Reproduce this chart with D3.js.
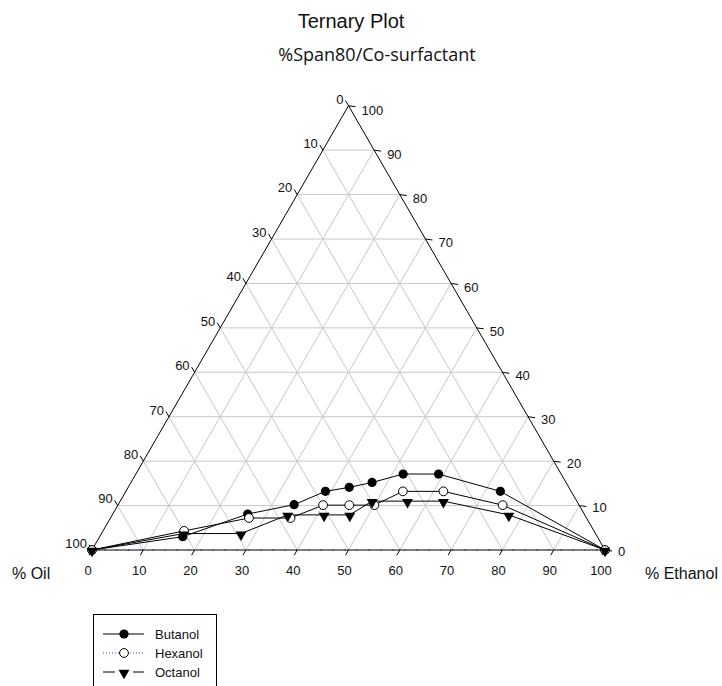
<!DOCTYPE html>
<html>
<head>
<meta charset="utf-8">
<script src="https://cdn.jsdelivr.net/npm/d3@7"></script>
<style>
  html, body { margin: 0; padding: 0; background: #fff; }
  svg { display: block; }
</style>
</head>
<body>
<svg id="chart" width="722" height="686"></svg>
<script>
// ---- data (ternary compositions, %) ----
const ticks = [0, 10, 20, 30, 40, 50, 60, 70, 80, 90, 100];
const seriesNames = ["Butanol", "Hexanol", "Octanol"];

// % Ethanol and % Span80/Co-surfactant for each point (oil = 100 - ethanol - span)
const butanolEthanol = [0, 16.2, 26.3, 34.3, 38.9, 43.1, 47.0, 52.1, 59.0, 73.0, 100];
const butanolSpan    = [0, 3.0, 8.1, 10.2, 13.2, 14.1, 15.2, 17.1, 17.1, 13.2, 0];

const hexanolEthanol = [0, 15.8, 27.0, 35.1, 40.0, 45.1, 50.0, 54.0, 61.9, 75.0, 100];
const hexanolSpan    = [0, 4.3, 7.2, 7.2, 10.1, 10.1, 10.1, 13.2, 13.2, 10.1, 0];

const octanolEthanol = [0, 16.0, 27.2, 34.2, 41.3, 46.3, 49.1, 56.0, 63.0, 77.3, 100];
const octanolSpan    = [0, 3.7, 3.7, 7.9, 7.9, 7.9, 11.0, 11.0, 11.0, 7.9, 0];

// ---- layout ----
const svg = d3.select("#chart");
const x0 = 92, x1 = 605, yBase = 550;
const side = x1 - x0;
const H = side * Math.sqrt(3) / 2;

const xs = d3.scaleLinear().domain([0, 100]).range([x0, x1]);        // cartesian x in ternary units
const ys = d3.scaleLinear().domain([0, 100]).range([yBase, yBase - H]); // span (height)

// ternary -> pixel
function P(eth, span) { return [xs(eth + span / 2), ys(span)]; }

const font = "'Liberation Sans', Arial, sans-serif";

// ---- title ----
svg.append("text").attr("x", 351).attr("y", 28)
  .attr("text-anchor", "middle").attr("font-family", font).attr("font-size", 20)
  .attr("fill", "#111").text("Ternary Plot");
svg.append("text").attr("x", 377).attr("y", 61)
  .attr("text-anchor", "middle").attr("font-family", "'Open Sans', 'Noto Sans', sans-serif")
  .attr("font-size", 18).attr("fill", "#111").text("%Span80/Co-surfactant");

// ---- grid ----
const grid = svg.append("g").attr("stroke", "#c8c8c8").attr("stroke-width", 1).attr("fill", "none");
ticks.slice(1, -1).forEach(v => {
  // constant span (horizontal)
  let a = P(0, v), b = P(100 - v, v);
  grid.append("line").attr("x1", a[0]).attr("y1", a[1]).attr("x2", b[0]).attr("y2", b[1]);
  // constant ethanol (parallel to left edge)
  a = P(v, 0); b = P(v, 100 - v);
  grid.append("line").attr("x1", a[0]).attr("y1", a[1]).attr("x2", b[0]).attr("y2", b[1]);
  // constant oil (parallel to right edge)
  a = P(100 - v, 0); b = P(0, 100 - v);
  grid.append("line").attr("x1", a[0]).attr("y1", a[1]).attr("x2", b[0]).attr("y2", b[1]);
});

// ---- triangle frame ----
const A = P(0, 0), B = P(100, 0), C = P(0, 100);
svg.append("path")
  .attr("d", `M${A[0]},${A[1]}L${B[0]},${B[1]}L${C[0]},${C[1]}Z`)
  .attr("fill", "none").attr("stroke", "#000").attr("stroke-width", 1);
// blue dotted overlay along the base
svg.append("line").attr("x1", A[0]).attr("y1", A[1]).attr("x2", B[0]).attr("y2", B[1])
  .attr("stroke", "#3344cc").attr("stroke-width", 1.3).attr("stroke-dasharray", "1.5,10.5");

// ---- axes: ticks and labels ----
const tk = 6;
const axes = svg.append("g").attr("stroke", "#000").attr("stroke-width", 1);
const lab = svg.append("g").attr("font-family", font).attr("font-size", 13).attr("fill", "#111");

ticks.forEach(v => {
  // bottom: % Ethanol
  let p = P(v, 0);
  let e = [p[0] - 0.5 * tk, p[1] + 0.866 * tk];
  axes.append("line").attr("x1", p[0]).attr("y1", p[1]).attr("x2", e[0]).attr("y2", e[1]);
  lab.append("text").attr("x", p[0] - 4).attr("y", p[1] + 25).attr("text-anchor", "middle").text(v);

  // left: % Oil (0 at top, 100 at bottom-left)
  p = P(0, 100 - v);
  e = [p[0] - 0.5 * tk, p[1] - 0.866 * tk];
  axes.append("line").attr("x1", p[0]).attr("y1", p[1]).attr("x2", e[0]).attr("y2", e[1]);
  lab.append("text").attr("x", e[0] - 2).attr("y", e[1] + 3).attr("text-anchor", "end").text(v);

  // right: % Span80/Co-surfactant (100 at top, 0 at bottom-right)
  p = P(100 - v, v);
  e = [p[0] + 7, p[1] + 1];
  axes.append("line").attr("x1", p[0]).attr("y1", p[1]).attr("x2", e[0]).attr("y2", e[1]);
  lab.append("text").attr("x", p[0] + 13).attr("y", p[1] + 1 + 4 * v / 100).attr("dy", "0.36em").text(v);
});

// axis names
svg.append("text").attr("x", 12).attr("y", 579).attr("font-family", font).attr("font-size", 16)
  .attr("fill", "#111").text("% Oil");
svg.append("text").attr("x", 645).attr("y", 579).attr("font-family", font).attr("font-size", 16)
  .attr("fill", "#111").text("% Ethanol");

// ---- series ----
const series = [
  { name: seriesNames[0], eth: butanolEthanol, span: butanolSpan, marker: "dot" },
  { name: seriesNames[1], eth: hexanolEthanol, span: hexanolSpan, marker: "open" },
  { name: seriesNames[2], eth: octanolEthanol, span: octanolSpan, marker: "tri" }
];

const line = d3.line();
const triPath = d3.symbol().type(d3.symbolTriangle).size(52)();

function drawMarker(g, cx, cy, type) {
  if (type === "dot") {
    g.append("circle").attr("cx", cx).attr("cy", cy).attr("r", 4.6).attr("fill", "#000");
  } else if (type === "open") {
    g.append("circle").attr("cx", cx).attr("cy", cy).attr("r", 4.4)
      .attr("fill", "#fff").attr("stroke", "#000").attr("stroke-width", 1);
  } else {
    g.append("path").attr("d", triPath)
      .attr("transform", `translate(${cx},${cy + 1}) rotate(180)`).attr("fill", "#000");
  }
}

const plot = svg.append("g");
series.forEach(s => {
  const pts = s.eth.map((e, i) => P(e, s.span[i]));
  plot.append("path").attr("d", line(pts)).attr("fill", "none")
    .attr("stroke", "#000").attr("stroke-width", 1);
});
series.forEach(s => {
  const pts = s.eth.map((e, i) => P(e, s.span[i]));
  pts.forEach(p => drawMarker(plot, p[0], p[1], s.marker));
});

// ---- legend ----
const lg = svg.append("g");
lg.append("rect").attr("x", 93.5).attr("y", 614.5).attr("width", 123).attr("height", 90)
  .attr("fill", "#fff").attr("stroke", "#000").attr("stroke-width", 1);
const legendY = [634, 653, 672];
series.forEach((s, i) => {
  const y = legendY[i];
  if (i === 0) {
    lg.append("line").attr("x1", 103).attr("x2", 144).attr("y1", y).attr("y2", y)
      .attr("stroke", "#000").attr("stroke-width", 1);
  } else if (i === 1) {
    lg.append("line").attr("x1", 103).attr("x2", 144).attr("y1", y).attr("y2", y)
      .attr("stroke", "#3344ee").attr("stroke-width", 1).attr("stroke-dasharray", "1,2");
  } else {
    lg.append("line").attr("x1", 103).attr("x2", 115).attr("y1", y).attr("y2", y)
      .attr("stroke", "#000").attr("stroke-width", 1);
    lg.append("line").attr("x1", 133).attr("x2", 144).attr("y1", y).attr("y2", y)
      .attr("stroke", "#000").attr("stroke-width", 1);
  }
  drawMarker(lg, 124, y, s.marker);
  lg.append("text").attr("x", 155).attr("y", y).attr("dy", "0.36em")
    .attr("font-family", font).attr("font-size", 13).attr("fill", "#111").text(s.name);
});
</script>
</body>
</html>
